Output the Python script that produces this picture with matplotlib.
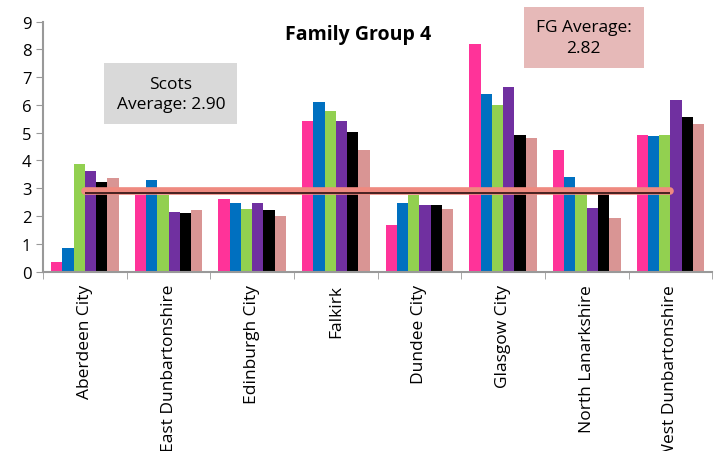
import numpy as np
import matplotlib
matplotlib.use("Agg")
import matplotlib.pyplot as plt

plt.rcParams['font.family'] = ['Open Sans', 'DejaVu Sans']

areas = ["Aberdeen City", "East Dunbartonshire", "Edinburgh City", "Falkirk",
         "Dundee City", "Glasgow City", "North Lanarkshire", "West Dunbartonshire"]

# six series per area
s1 = [0.34, 2.75, 2.62, 5.43, 1.69, 8.20, 4.37, 4.92]
s2 = [0.84, 3.31, 2.46, 6.09, 2.46, 6.39, 3.41, 4.87]
s3 = [3.87, 2.75, 2.24, 5.77, 2.75, 5.98, 2.78, 4.92]
s4 = [3.61, 2.16, 2.46, 5.43, 2.40, 6.64, 2.29, 6.18]
s5 = [3.22, 2.10, 2.21, 5.02, 2.40, 4.92, 2.78, 5.58]
s6 = [3.36, 2.21, 1.99, 4.36, 2.24, 4.81, 1.94, 5.33]
series = [s1, s2, s3, s4, s5, s6]

scots_avg = 2.90
fg_avg = 2.82

color_list = ["#ff3399", "#0070c0", "#92d050", "#7030a0", "#000000", "#d99594"]

fig = plt.figure(figsize=(7.18, 4.52), dpi=100)
ax = fig.add_axes([0.06, 0.397, 0.932, 0.553])

x = np.arange(len(areas))
bar_width = 0.135
for i, vals in enumerate(series):
    ax.bar(x - 2.5 * bar_width + i * bar_width, vals, width=bar_width,
           color=color_list[i], zorder=2)

# average lines
ax.hlines(scots_avg, 0, len(areas) - 1, color="#ef8a80", linewidth=5.5,
          zorder=3, capstyle="round")
ax.hlines(fg_avg, 0, len(areas) - 1, color="#3a1a1a", linewidth=1.3,
          zorder=4)

ax.set_xlim(-0.5, len(areas) - 0.5)
ax.set_ylim(0, 9)
ax.set_yticks(range(0, 10))
ax.set_xticks(x)
ax.set_xticklabels(areas, rotation=90, fontsize=12.5)
ax.set_xticks(np.arange(-0.5, len(areas), 1), minor=True)
ax.tick_params(axis="x", which="major", length=0, pad=9)
ax.tick_params(axis="x", which="minor", length=5, color="#999999",
               direction="out")
ax.tick_params(axis="y", labelsize=12, length=5, color="#999999",
               direction="out")

for side in ["top", "right"]:
    ax.spines[side].set_visible(False)
for side in ["left", "bottom"]:
    ax.spines[side].set_color("#999999")
    ax.spines[side].set_linewidth(1.5)

fig.text(0.498, 0.923, "Family Group 4", fontsize=14, fontweight="bold",
         ha="center", va="center")

fig.text(0.238, 0.79, "Scots\nAverage: 2.90", fontsize=12.5, ha="center",
         va="center", linespacing=1.4,
         bbox=dict(boxstyle="square,pad=0.7", facecolor="#d9d9d9",
                   edgecolor="none"))
fig.text(0.813, 0.915, "FG Average:\n2.82", fontsize=12.5, ha="center",
         va="center", linespacing=1.4,
         bbox=dict(boxstyle="square,pad=0.7", facecolor="#e6b9b8",
                   edgecolor="none"))

plt.savefig("out.png", dpi=100)
plt.close("all")
